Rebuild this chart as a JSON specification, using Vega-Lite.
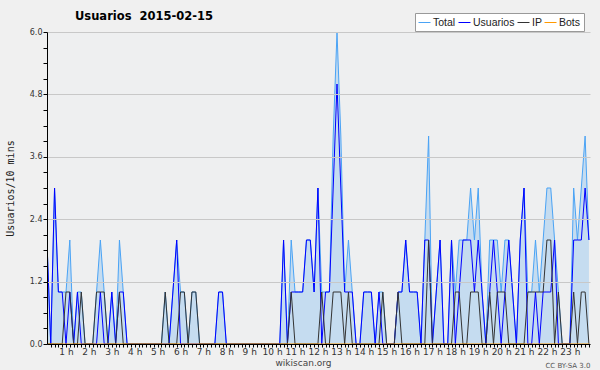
{
  "$schema": "https://vega.github.io/schema/vega-lite/v6.json",
  "width": 543,
  "height": 312,
  "autosize": {"type": "none"},
  "padding": {"left": 47, "top": 32, "right": 10, "bottom": 26},
  "background": "#f0f0f0",
  "config": {"view": {"fill": "#eeeff0", "stroke": null}, "font": "DejaVu Sans",
    "locale": {"number": {"decimal": ".", "thousands": ",", "grouping": [3], "currency": ["", " h"]}}},
  "title": {"text": "Usuarios\u00a0 2015-02-15", "anchor": "start", "frame": "group", "dx": 28, "offset": -10, "fontSize": 11.5, "fontWeight": "bold", "color": "#000", "font": "DejaVu Sans"},
  "data": {"values": [
    {"h":0.16667,"Total":2,"Usuarios":2,"IP":0,"Bots":0},{"h":0.33333,"Total":0,"Usuarios":0,"IP":0,"Bots":0},{"h":0.5,"Total":3,"Usuarios":3,"IP":0,"Bots":0},{"h":0.66667,"Total":1,"Usuarios":1,"IP":0,"Bots":0},{"h":0.83333,"Total":1,"Usuarios":1,"IP":0,"Bots":0},
    {"h":1,"Total":1,"Usuarios":0,"IP":1,"Bots":0},{"h":1.16667,"Total":2,"Usuarios":1,"IP":1,"Bots":0},{"h":1.33333,"Total":0,"Usuarios":0,"IP":0,"Bots":0},{"h":1.5,"Total":1,"Usuarios":1,"IP":0,"Bots":0},{"h":1.66667,"Total":1,"Usuarios":0,"IP":1,"Bots":0},{"h":1.83333,"Total":0,"Usuarios":0,"IP":0,"Bots":0},
    {"h":2,"Total":0,"Usuarios":0,"IP":0,"Bots":0},{"h":2.16667,"Total":0,"Usuarios":0,"IP":0,"Bots":0},{"h":2.33333,"Total":1,"Usuarios":0,"IP":1,"Bots":0},{"h":2.5,"Total":2,"Usuarios":1,"IP":1,"Bots":0},{"h":2.66667,"Total":1,"Usuarios":0,"IP":1,"Bots":0},{"h":2.83333,"Total":0,"Usuarios":0,"IP":0,"Bots":0},
    {"h":3,"Total":1,"Usuarios":1,"IP":0,"Bots":0},{"h":3.16667,"Total":0,"Usuarios":0,"IP":0,"Bots":0},{"h":3.33333,"Total":2,"Usuarios":1,"IP":1,"Bots":0},{"h":3.5,"Total":1,"Usuarios":1,"IP":0,"Bots":0},{"h":3.66667,"Total":0,"Usuarios":0,"IP":0,"Bots":0},{"h":3.83333,"Total":0,"Usuarios":0,"IP":0,"Bots":0},
    {"h":4,"Total":0,"Usuarios":0,"IP":0,"Bots":0},{"h":4.16667,"Total":0,"Usuarios":0,"IP":0,"Bots":0},{"h":4.33333,"Total":0,"Usuarios":0,"IP":0,"Bots":0},{"h":4.5,"Total":0,"Usuarios":0,"IP":0,"Bots":0},{"h":4.66667,"Total":0,"Usuarios":0,"IP":0,"Bots":0},{"h":4.83333,"Total":0,"Usuarios":0,"IP":0,"Bots":0},
    {"h":5,"Total":0,"Usuarios":0,"IP":0,"Bots":0},{"h":5.16667,"Total":0,"Usuarios":0,"IP":0,"Bots":0},{"h":5.33333,"Total":1,"Usuarios":0,"IP":1,"Bots":0},{"h":5.5,"Total":0,"Usuarios":0,"IP":0,"Bots":0},{"h":5.66667,"Total":1,"Usuarios":1,"IP":0,"Bots":0},{"h":5.83333,"Total":2,"Usuarios":2,"IP":0,"Bots":0},
    {"h":6,"Total":1,"Usuarios":0,"IP":1,"Bots":0},{"h":6.16667,"Total":1,"Usuarios":0,"IP":1,"Bots":0},{"h":6.33333,"Total":0,"Usuarios":0,"IP":0,"Bots":0},{"h":6.5,"Total":1,"Usuarios":0,"IP":1,"Bots":0},{"h":6.66667,"Total":1,"Usuarios":0,"IP":1,"Bots":0},{"h":6.83333,"Total":0,"Usuarios":0,"IP":0,"Bots":0},
    {"h":7,"Total":0,"Usuarios":0,"IP":0,"Bots":0},{"h":7.16667,"Total":0,"Usuarios":0,"IP":0,"Bots":0},{"h":7.33333,"Total":0,"Usuarios":0,"IP":0,"Bots":0},{"h":7.5,"Total":0,"Usuarios":0,"IP":0,"Bots":0},{"h":7.66667,"Total":1,"Usuarios":1,"IP":0,"Bots":0},{"h":7.83333,"Total":1,"Usuarios":1,"IP":0,"Bots":0},
    {"h":8,"Total":0,"Usuarios":0,"IP":0,"Bots":0},{"h":8.16667,"Total":0,"Usuarios":0,"IP":0,"Bots":0},{"h":8.33333,"Total":0,"Usuarios":0,"IP":0,"Bots":0},{"h":8.5,"Total":0,"Usuarios":0,"IP":0,"Bots":0},{"h":8.66667,"Total":0,"Usuarios":0,"IP":0,"Bots":0},{"h":8.83333,"Total":0,"Usuarios":0,"IP":0,"Bots":0},
    {"h":9,"Total":0,"Usuarios":0,"IP":0,"Bots":0},{"h":9.16667,"Total":0,"Usuarios":0,"IP":0,"Bots":0},{"h":9.33333,"Total":0,"Usuarios":0,"IP":0,"Bots":0},{"h":9.5,"Total":0,"Usuarios":0,"IP":0,"Bots":0},{"h":9.66667,"Total":0,"Usuarios":0,"IP":0,"Bots":0},{"h":9.83333,"Total":0,"Usuarios":0,"IP":0,"Bots":0},
    {"h":10,"Total":0,"Usuarios":0,"IP":0,"Bots":0},{"h":10.16667,"Total":0,"Usuarios":0,"IP":0,"Bots":0},{"h":10.33333,"Total":0,"Usuarios":0,"IP":0,"Bots":0},{"h":10.5,"Total":2,"Usuarios":2,"IP":0,"Bots":0},{"h":10.66667,"Total":0,"Usuarios":0,"IP":0,"Bots":0},{"h":10.83333,"Total":2,"Usuarios":1,"IP":1,"Bots":0},
    {"h":11,"Total":1,"Usuarios":1,"IP":0,"Bots":0},{"h":11.16667,"Total":1,"Usuarios":1,"IP":0,"Bots":0},{"h":11.33333,"Total":1,"Usuarios":1,"IP":0,"Bots":0},{"h":11.5,"Total":2,"Usuarios":2,"IP":0,"Bots":0},{"h":11.66667,"Total":2,"Usuarios":2,"IP":0,"Bots":0},{"h":11.83333,"Total":1,"Usuarios":1,"IP":0,"Bots":0},
    {"h":12,"Total":3,"Usuarios":3,"IP":0,"Bots":0},{"h":12.16667,"Total":1,"Usuarios":0,"IP":1,"Bots":0},{"h":12.33333,"Total":1,"Usuarios":1,"IP":0,"Bots":0},{"h":12.5,"Total":1,"Usuarios":1,"IP":0,"Bots":0},{"h":12.66667,"Total":4,"Usuarios":3,"IP":1,"Bots":0},{"h":12.83333,"Total":6,"Usuarios":5,"IP":1,"Bots":0},
    {"h":13,"Total":4,"Usuarios":3,"IP":1,"Bots":0},{"h":13.16667,"Total":1,"Usuarios":1,"IP":0,"Bots":0},{"h":13.33333,"Total":2,"Usuarios":1,"IP":1,"Bots":0},{"h":13.5,"Total":1,"Usuarios":1,"IP":0,"Bots":0},{"h":13.66667,"Total":0,"Usuarios":0,"IP":0,"Bots":0},{"h":13.83333,"Total":0,"Usuarios":0,"IP":0,"Bots":0},
    {"h":14,"Total":1,"Usuarios":1,"IP":0,"Bots":0},{"h":14.16667,"Total":1,"Usuarios":1,"IP":0,"Bots":0},{"h":14.33333,"Total":1,"Usuarios":1,"IP":0,"Bots":0},{"h":14.5,"Total":0,"Usuarios":0,"IP":0,"Bots":0},{"h":14.66667,"Total":1,"Usuarios":1,"IP":0,"Bots":0},{"h":14.83333,"Total":1,"Usuarios":0,"IP":1,"Bots":0},
    {"h":15,"Total":0,"Usuarios":0,"IP":0,"Bots":0},{"h":15.16667,"Total":0,"Usuarios":0,"IP":0,"Bots":0},{"h":15.33333,"Total":0,"Usuarios":0,"IP":0,"Bots":0},{"h":15.5,"Total":1,"Usuarios":1,"IP":1,"Bots":0},{"h":15.66667,"Total":1,"Usuarios":1,"IP":0,"Bots":0},{"h":15.83333,"Total":2,"Usuarios":2,"IP":0,"Bots":0},
    {"h":16,"Total":1,"Usuarios":1,"IP":0,"Bots":0},{"h":16.16667,"Total":1,"Usuarios":1,"IP":0,"Bots":0},{"h":16.33333,"Total":1,"Usuarios":1,"IP":0,"Bots":0},{"h":16.5,"Total":0,"Usuarios":0,"IP":0,"Bots":0},{"h":16.66667,"Total":2,"Usuarios":2,"IP":0,"Bots":0},{"h":16.83333,"Total":4,"Usuarios":2,"IP":2,"Bots":0},
    {"h":17,"Total":0,"Usuarios":0,"IP":0,"Bots":0},{"h":17.16667,"Total":1,"Usuarios":1,"IP":0,"Bots":0},{"h":17.33333,"Total":2,"Usuarios":2,"IP":0,"Bots":0},{"h":17.5,"Total":0,"Usuarios":0,"IP":0,"Bots":0},{"h":17.66667,"Total":0,"Usuarios":0,"IP":0,"Bots":0},{"h":17.83333,"Total":2,"Usuarios":2,"IP":0,"Bots":0},
    {"h":18,"Total":1,"Usuarios":0,"IP":1,"Bots":0},{"h":18.16667,"Total":2,"Usuarios":1,"IP":1,"Bots":0},{"h":18.33333,"Total":2,"Usuarios":2,"IP":0,"Bots":0},{"h":18.5,"Total":2,"Usuarios":2,"IP":0,"Bots":0},{"h":18.66667,"Total":3,"Usuarios":2,"IP":1,"Bots":0},{"h":18.83333,"Total":2,"Usuarios":1,"IP":1,"Bots":0},
    {"h":19,"Total":3,"Usuarios":2,"IP":1,"Bots":0},{"h":19.16667,"Total":1,"Usuarios":1,"IP":0,"Bots":0},{"h":19.33333,"Total":0,"Usuarios":0,"IP":0,"Bots":0},{"h":19.5,"Total":2,"Usuarios":1,"IP":1,"Bots":0},{"h":19.66667,"Total":2,"Usuarios":2,"IP":0,"Bots":0},{"h":19.83333,"Total":2,"Usuarios":1,"IP":1,"Bots":0},
    {"h":20,"Total":1,"Usuarios":0,"IP":1,"Bots":0},{"h":20.16667,"Total":2,"Usuarios":1,"IP":1,"Bots":0},{"h":20.33333,"Total":2,"Usuarios":2,"IP":0,"Bots":0},{"h":20.5,"Total":1,"Usuarios":1,"IP":0,"Bots":0},{"h":20.66667,"Total":0,"Usuarios":0,"IP":0,"Bots":0},{"h":20.83333,"Total":2,"Usuarios":2,"IP":0,"Bots":0},
    {"h":21,"Total":3,"Usuarios":3,"IP":0,"Bots":0},{"h":21.16667,"Total":1,"Usuarios":0,"IP":1,"Bots":0},{"h":21.33333,"Total":1,"Usuarios":0,"IP":1,"Bots":0},{"h":21.5,"Total":2,"Usuarios":1,"IP":1,"Bots":0},{"h":21.66667,"Total":1,"Usuarios":0,"IP":1,"Bots":0},{"h":21.83333,"Total":2,"Usuarios":1,"IP":1,"Bots":0},
    {"h":22,"Total":3,"Usuarios":1,"IP":2,"Bots":0},{"h":22.16667,"Total":3,"Usuarios":1,"IP":2,"Bots":0},{"h":22.33333,"Total":2,"Usuarios":2,"IP":0,"Bots":0},{"h":22.5,"Total":1,"Usuarios":0,"IP":1,"Bots":0},{"h":22.66667,"Total":0,"Usuarios":0,"IP":0,"Bots":0},{"h":22.83333,"Total":0,"Usuarios":0,"IP":0,"Bots":0},
    {"h":23,"Total":0,"Usuarios":0,"IP":0,"Bots":0},{"h":23.16667,"Total":3,"Usuarios":2,"IP":1,"Bots":0},{"h":23.33333,"Total":2,"Usuarios":2,"IP":0,"Bots":0},{"h":23.5,"Total":3,"Usuarios":2,"IP":1,"Bots":0},{"h":23.66667,"Total":4,"Usuarios":3,"IP":1,"Bots":0},{"h":23.83333,"Total":2,"Usuarios":2,"IP":0,"Bots":0}
  ]},
  "layer": [
    {
      "mark": {"type": "area", "color": "#c5dcf0", "clip": true},
      "encoding": {
        "x": {"field": "h", "type": "quantitative", "scale": {"domain": [0.17, 23.88], "nice": false, "zero": false},
          "axis": {"orient": "bottom", "values": [1,2,3,4,5,6,7,8,9,10,11,12,13,14,15,16,17,18,19,20,21,22,23], "format": "$d",
            "labelOverlap": false, "labelFlush": false, "labelFontSize": 9, "labelColor": "#333", "labelPadding": 0,
            "tickSize": 3, "tickColor": "#000", "domainColor": "#000", "grid": false,
            "title": "wikiscan.org", "titleFontSize": 9, "titleFontWeight": "normal", "titleColor": "#444", "titleX": 256, "titleY": 21, "titleAlign": "center", "titleBaseline": "alphabetic", "zindex": 1}},
        "y": {"field": "Total", "type": "quantitative", "scale": {"domain": [0, 6], "nice": false},
          "axis": {"orient": "left", "values": [0, 1.2, 2.4, 3.6, 4.8, 6.0], "format": ".1f",
            "labelFontSize": 8, "labelColor": "#333", "labelPadding": 1, "tickSize": 4, "tickColor": "#000", "domainColor": "#000",
            "labelOverlap": false, "labelFlush": false, "grid": true, "gridColor": "#c8c8c8",
            "title": "Usuarios/10 mins", "titleFont": "DejaVu Sans Mono", "titleFontSize": 10, "titleFontWeight": "normal", "titleColor": "#222", "titleX": -37, "titleY": 156, "titleBaseline": "middle", "titleAlign": "center", "zindex": 1}}
      }
    },
    {
      "transform": [{"fold": ["Total", "Usuarios", "IP", "Bots"], "as": ["serie", "n"]}],
      "mark": {"type": "line", "strokeWidth": 1, "clip": true},
      "encoding": {
        "x": {"field": "h", "type": "quantitative",
          "axis": {"orient": "bottom", "values": [0.16667,0.33333,0.5,0.66667,0.83333,1.16667,1.33333,1.5,1.66667,1.83333,2.16667,2.33333,2.5,2.66667,2.83333,3.16667,3.33333,3.5,3.66667,3.83333,4.16667,4.33333,4.5,4.66667,4.83333,5.16667,5.33333,5.5,5.66667,5.83333,6.16667,6.33333,6.5,6.66667,6.83333,7.16667,7.33333,7.5,7.66667,7.83333,8.16667,8.33333,8.5,8.66667,8.83333,9.16667,9.33333,9.5,9.66667,9.83333,10.16667,10.33333,10.5,10.66667,10.83333,11.16667,11.33333,11.5,11.66667,11.83333,12.16667,12.33333,12.5,12.66667,12.83333,13.16667,13.33333,13.5,13.66667,13.83333,14.16667,14.33333,14.5,14.66667,14.83333,15.16667,15.33333,15.5,15.66667,15.83333,16.16667,16.33333,16.5,16.66667,16.83333,17.16667,17.33333,17.5,17.66667,17.83333,18.16667,18.33333,18.5,18.66667,18.83333,19.16667,19.33333,19.5,19.66667,19.83333,20.16667,20.33333,20.5,20.66667,20.83333,21.16667,21.33333,21.5,21.66667,21.83333,22.16667,22.33333,22.5,22.66667,22.83333,23.16667,23.33333,23.5,23.66667,23.83333],
            "labels": false, "domain": false, "grid": false, "tickSize": 3, "tickColor": "#000",
            "title": "CC BY-SA 3.0", "titleFontSize": 7, "titleFontWeight": "normal", "titleColor": "#555", "titleX": 543, "titleY": 23, "titleAlign": "right", "titleBaseline": "alphabetic", "zindex": 1}},
        "y": {"field": "n", "type": "quantitative",
          "axis": {"orient": "left", "values": [0.3,0.6,0.9,1.5,1.8,2.1,2.7,3.0,3.3,3.9,4.2,4.5,5.1,5.4,5.7], "labels": false, "domain": false, "grid": false, "tickSize": 4, "tickColor": "#000", "title": null, "zindex": 1}},
        "color": {"field": "serie", "type": "nominal",
          "scale": {"domain": ["Total", "Usuarios", "IP", "Bots"], "range": ["#4aa3f5", "#0000ff", "#333333", "#ff9900"]},
          "legend": {"orient": "none", "legendX": 368, "legendY": -19, "direction": "horizontal", "title": null,
            "symbolType": "stroke", "symbolSize": 144, "symbolStrokeWidth": 1, "labelFontSize": 10.5, "labelFont": "Liberation Sans", "labelColor": "#222",
            "fillColor": "#ffffff", "strokeColor": "#999", "padding": 3, "columnPadding": 0, "labelOffset": 2}}
      }
    }
  ],
  "resolve": {"axis": {"x": "independent", "y": "independent"}}
}
